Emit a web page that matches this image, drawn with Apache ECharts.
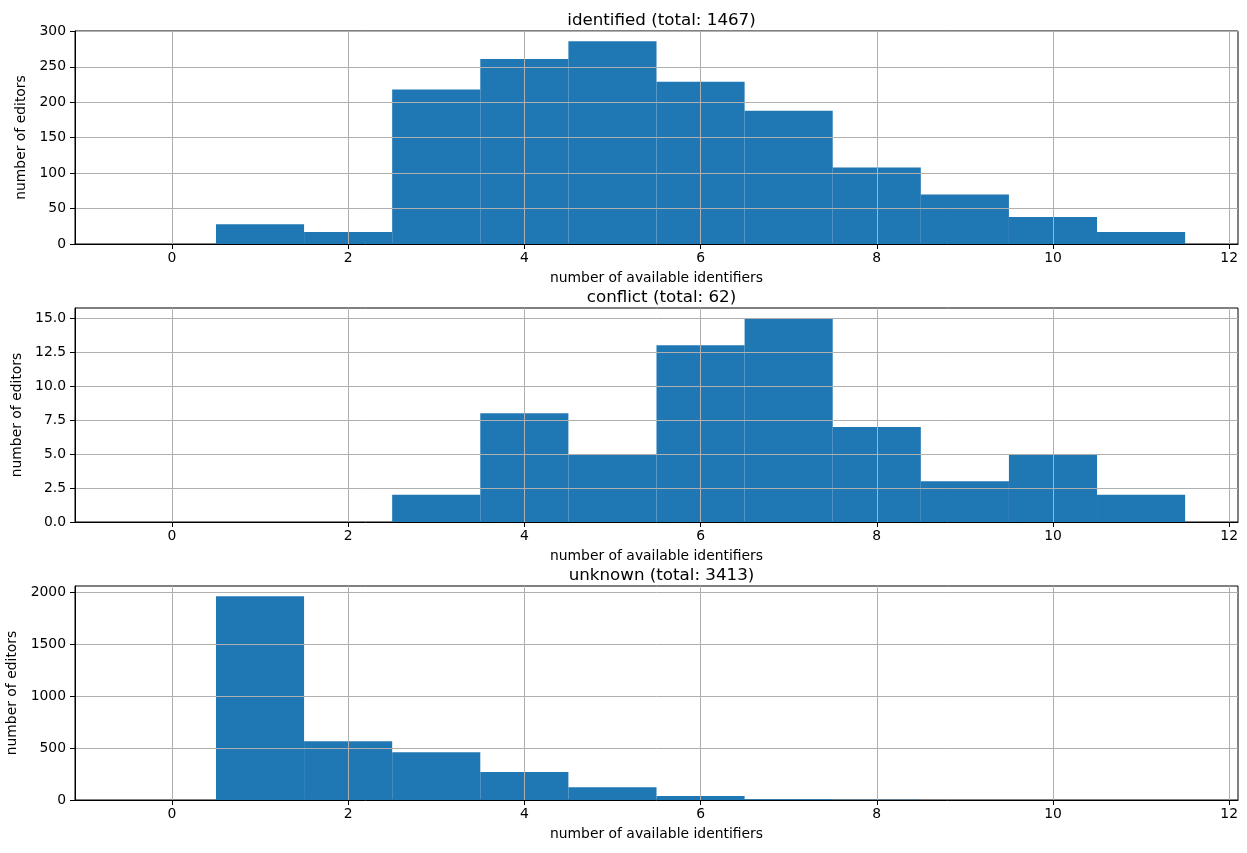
<!DOCTYPE html>
<html>
<head>
<meta charset="utf-8">
<script src="https://cdn.jsdelivr.net/npm/echarts@6/dist/echarts.min.js"></script>
<style>html,body{margin:0;padding:0;background:#fff}#c{width:1247px;height:853px}</style>
</head>
<body>
<div id="c"></div>
<script>
// bin centers (number of available identifiers)
const bins = [0, 1, 2, 3, 4, 5, 6, 7, 8, 9, 10, 11];
const identified = [0, 28, 17, 218, 261, 286, 229, 188, 108, 70, 38, 17];
const conflict = [0, 0, 0, 2, 8, 5, 13, 15, 7, 3, 5, 2];
const unknown = [0, 1962, 566, 460, 269, 123, 38, 8, 2, 1, 0, 0];
const titles = ['identified (total: 1467)', 'conflict (total: 62)', 'unknown (total: 3413)'];
const xTicks = [0, 2, 4, 6, 8, 10, 12];
const yTicks = [
  [0, 50, 100, 150, 200, 250, 300],
  [0, 2.5, 5, 7.5, 10, 12.5, 15],
  [0, 500, 1000, 1500, 2000]
];
const yMax = [300.5, 15.75, 2061];
const xLabel = 'number of available identifiers';
const yLabel = 'number of editors';

const FONT = 'DejaVu Sans';
const grids = [
  {left: 75, right: 9, top: 31, height: 213},
  {left: 75, right: 9, top: 308, height: 214},
  {left: 75, right: 9, top: 586, height: 214}
];
const datasets = [identified, conflict, unknown];
const yFmt = [v => String(v), v => v.toFixed(1), v => String(v)];
const yNameGap = [43, 50, 49];

const option = {
  animation: false,
  backgroundColor: '#fff',
  title: grids.map((g, i) => ({
    text: titles[i],
    left: 75 + (1247 - 75 - 9) / 2,
    textAlign: 'center',
    top: g.top - 24,
    textStyle: {fontFamily: FONT, fontSize: 16.7, fontWeight: 'normal', color: '#000'}
  })),
  grid: grids.map(g => Object.assign({show: true, borderColor: '#000', borderWidth: 1, backgroundColor: 'transparent', containLabel: false, outerBoundsMode: 'none'}, g)),
  xAxis: grids.map((g, i) => ({
    type: 'value', gridIndex: i, min: -1.1, max: 12.1, z: 5,
    name: xLabel, nameLocation: 'middle', nameGap: 27,
    nameTextStyle: {fontFamily: FONT, fontSize: 13.9, color: '#000'},
    axisLine: {show: true, onZero: false, lineStyle: {color: '#000', width: 1}},
    axisTick: {show: true, inside: false, length: 5, customValues: xTicks, lineStyle: {color: '#000'}},
    axisLabel: {customValues: xTicks, margin: 7, fontFamily: FONT, fontSize: 13.9, color: '#000'},
    splitLine: {show: true, lineStyle: {color: '#b0b0b0', width: 1}}
  })),
  yAxis: grids.map((g, i) => ({
    type: 'value', gridIndex: i, min: 0, max: yMax[i], z: 5,
    name: yLabel, nameLocation: 'middle', nameGap: yNameGap[i],
    nameTextStyle: {fontFamily: FONT, fontSize: 13.9, color: '#000'},
    axisLine: {show: true, onZero: false, lineStyle: {color: '#000', width: 1}},
    axisTick: {show: true, inside: false, length: 5, customValues: yTicks[i], lineStyle: {color: '#000'}},
    axisLabel: {customValues: yTicks[i], margin: 9, fontFamily: FONT, fontSize: 13.9, color: '#000', formatter: yFmt[i]},
    splitLine: {show: true, lineStyle: {color: '#b0b0b0', width: 1}}
  })),
  series: datasets.map((d, i) => ({
    type: 'custom', xAxisIndex: i, yAxisIndex: i, z: 2,
    data: bins.map((b, k) => [b, d[k]]),
    renderItem: function (params, api) {
      const x = api.value(0), y = api.value(1);
      if (!y) return null;
      const p0 = api.coord([x - 0.5, y]);
      const p1 = api.coord([x + 0.5, 0]);
      return {
        type: 'rect',
        shape: {x: p0[0], y: p0[1], width: p1[0] - p0[0], height: p1[1] - p0[1]},
        style: {fill: '#1f77b4'}
      };
    }
  }))
};
const chart = echarts.init(document.getElementById('c'), null, {renderer: 'canvas'});
chart.setOption(option);
</script>
</body>
</html>
